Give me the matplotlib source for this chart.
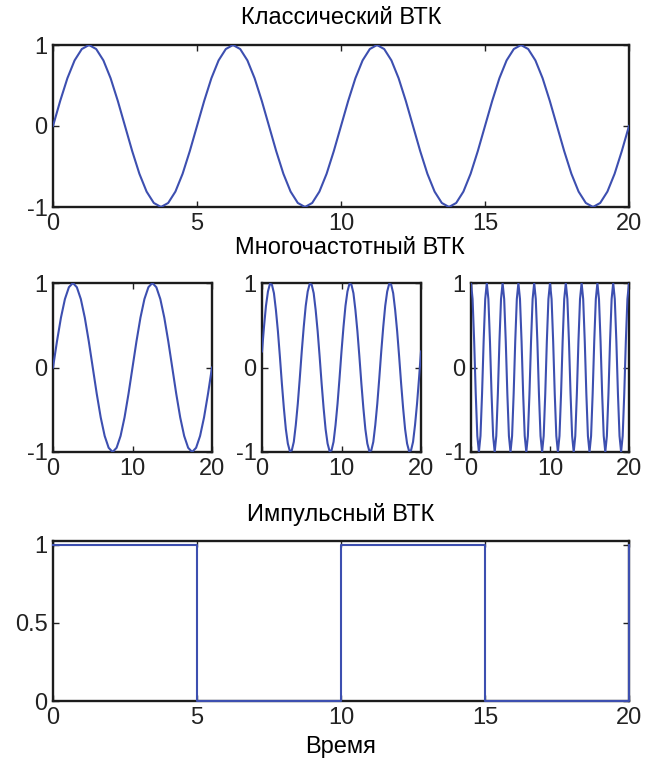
import matplotlib.pyplot as plt
import numpy as np

# one period of each wave
classic_cycle = [0.00, 0.31, 0.59, 0.81, 0.95, 1.00, 0.95, 0.81, 0.59, 0.31,
                 0.00, -0.31, -0.59, -0.81, -0.95, -1.00, -0.95, -0.81, -0.59, -0.31]
classic_step = 0.25
classic_repeats = 4

slow_cycle = [0.00, 0.31, 0.59, 0.81, 0.95, 1.00, 0.95, 0.81, 0.59, 0.31,
              0.00, -0.31, -0.59, -0.81, -0.95, -1.00, -0.95, -0.81, -0.59, -0.31]
slow_step = 0.5
slow_repeats = 2

mid_cycle = [0.19, 0.48, 0.73, 0.90, 0.99, 0.98, 0.88, 0.68, 0.43, 0.13,
             -0.19, -0.48, -0.73, -0.90, -0.99, -0.98, -0.88, -0.68, -0.43, -0.13]
mid_step = 0.25
mid_repeats = 4

fast_cycle = [1.00, 0.81, 0.31, -0.31, -0.81, -1.00, -0.81, -0.31, 0.31, 0.81]
fast_step = 0.2
fast_repeats = 10

# pulse train: switch times and levels
pulse_times = [0, 5, 10, 15, 20]
pulse_levels = [1, 0, 1, 0, 1]

titles = ["Классический ВТК", "Многочастотный ВТК", "Импульсный ВТК"]
x_label = "Время"
classic_xticks = [0, 5, 10, 15, 20]
multi_xticks = [0, 10, 20]
pulse_xticks = [0, 5, 10, 15, 20]
sine_yticks = [-1, 0, 1]
pulse_yticks = [0, 0.5, 1]
pulse_ytick_labels = ["0", "0.5", "1"]

LINE_COLOR = "#3d4fb0"
FONT_SIZE = 17
W, H = 646, 763

plt.rcParams["font.family"] = ["Liberation Sans", "DejaVu Sans"]
plt.rcParams["axes.unicode_minus"] = False


def wave(cycle, step, repeats):
    values = np.append(np.tile(cycle, repeats), cycle[0])
    times = np.arange(len(values)) * step
    return times, values


def box(fig, left, top, right, bottom):
    return fig.add_axes([left / W, 1 - bottom / H, (right - left) / W, (bottom - top) / H])


def style_axes(ax, xticks, yticks, ylim):
    ax.set_xlim(0, 20)
    ax.set_ylim(*ylim)
    ax.set_xticks(xticks)
    ax.set_yticks(yticks)
    ax.tick_params(direction="in", top=True, right=True, length=4, width=1,
                   labelsize=FONT_SIZE, pad=4, colors="#222222")
    for spine in ax.spines.values():
        spine.set_linewidth(1.7)
        spine.set_color("#1c1c1c")
        spine.set_zorder(2)


def main() -> None:
    fig = plt.figure(figsize=(W / 100, H / 100), dpi=100)

    ax_top = box(fig, 53, 45, 629, 207)
    t, y = wave(classic_cycle, classic_step, classic_repeats)
    ax_top.plot(t, y, color=LINE_COLOR, lw=1.5, zorder=3)
    style_axes(ax_top, classic_xticks, sine_yticks, (-1, 1))

    middle = [
        (53, 212, slow_cycle, slow_step, slow_repeats),
        (262, 421, mid_cycle, mid_step, mid_repeats),
        (471, 629, fast_cycle, fast_step, fast_repeats),
    ]
    for left, right, cycle, step, repeats in middle:
        ax = box(fig, left, 283, right, 452)
        t, y = wave(cycle, step, repeats)
        ax.plot(t, y, color=LINE_COLOR, lw=1.5, zorder=3)
        style_axes(ax, multi_xticks, sine_yticks, (-1, 1))

    ax_pulse = box(fig, 53, 541, 629, 701)
    ax_pulse.plot(pulse_times, pulse_levels, color=LINE_COLOR, lw=1.5,
                  drawstyle="steps-post", zorder=3, clip_on=False)
    style_axes(ax_pulse, pulse_xticks, pulse_yticks, (0, 1.025))
    ax_pulse.set_yticklabels(pulse_ytick_labels)

    fig.text(341 / W, 1 - 18 / H, titles[0], ha="center", va="center", fontsize=FONT_SIZE)
    fig.text(350 / W, 1 - 248 / H, titles[1], ha="center", va="center", fontsize=FONT_SIZE)
    fig.text(341 / W, 1 - 515 / H, titles[2], ha="center", va="center", fontsize=FONT_SIZE)
    fig.text(341 / W, 1 - 747 / H, x_label, ha="center", va="center", fontsize=FONT_SIZE)

    fig.savefig("out.png", dpi=100, facecolor="white")
    plt.close(fig)


if __name__ == "__main__":
    main()
